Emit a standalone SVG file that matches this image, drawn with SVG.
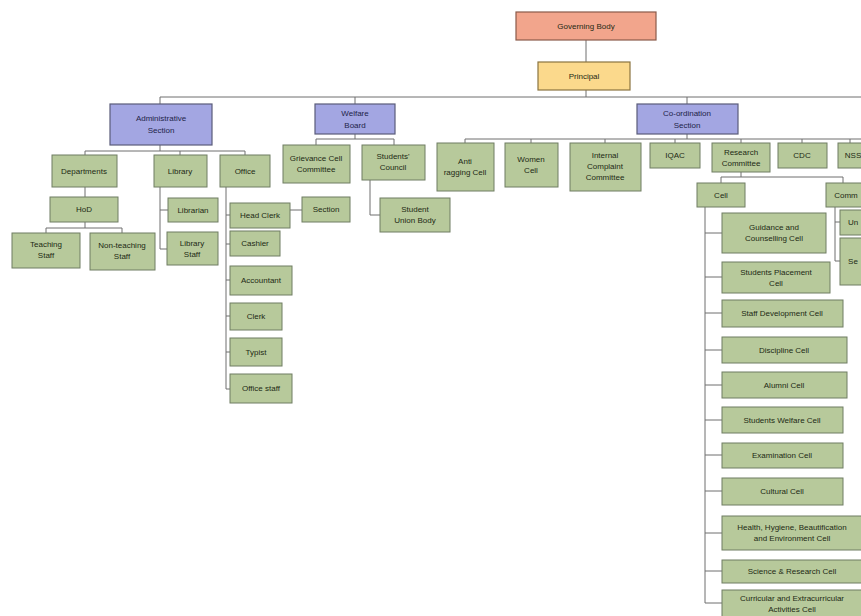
<svg xmlns="http://www.w3.org/2000/svg" width="861" height="616" viewBox="0 0 861 616">
<style>
.bg{fill:#ffffff}
.g rect{fill:#b7c99b;stroke:#6f7d62;stroke-width:1}
.b rect{fill:#a3a6e2;stroke:#5a5c7a;stroke-width:1.2}
.top rect{fill:#f2a58c;stroke:#8a5a4a;stroke-width:1.2}
.pr rect{fill:#fbd98c;stroke:#8a7440;stroke-width:1.2}
text{font-family:"Liberation Sans",Arial,sans-serif;font-size:8px;fill:#1d2a14;text-anchor:middle}
.b text{fill:#1e2448}
#connectors path{fill:none;stroke:#6e6e6e;stroke-width:1}
</style>
<rect class="bg" x="0" y="0" width="861" height="616"/>
<g id="connectors">
<path d="M586 40V62M586 90V97M160 97H861M160 97V104M355 97V104M687 97V104"/>
<path d="M160 145V151M85 151H245M85 151V155M180 151V155M245 151V155"/>
<path d="M85 187V197M85 222V228M46 228H122M46 228V233M122 228V233"/>
<path d="M160 187V249M160 210H168M160 249H167"/>
<path d="M226 187V389M226 215H230M226 244H230M226 280H230M226 316H230M226 352H230M226 389H230M290 210H302"/>
<path d="M355 134V139M316 139H394M316 139V145M394 139V145M370 180V215H380"/>
<path d="M687 134V139M465 139H861M465 139V143M531 139V143M605 139V143M675 139V143M741 139V143M802 139V143M850 139V143"/>
<path d="M741 172V177M721 177H843M721 177V183M843 177V183"/>
<path d="M705 207V603M705 233H722M705 277H722M705 313H722M705 350H722M705 385H722M705 420H722M705 455H722M705 491H722M705 533H722M705 571H722M705 603H722"/>
<path d="M835 207V261M835 222H840M835 261H840"/>
</g>
<g id="governing-body" class="top"><rect x="516" y="12" width="140" height="28"/><text x="586" y="29">Governing Body</text></g>
<g id="principal" class="pr"><rect x="538" y="62" width="92" height="28"/><text x="584" y="79">Principal</text></g>
<g id="administrative-section" class="b"><rect x="110" y="104" width="102" height="41"/><text x="161" y="121">Administrative</text><text x="161" y="133">Section</text></g>
<g id="welfare-board" class="b"><rect x="315" y="104" width="80" height="30"/><text x="355" y="116">Welfare</text><text x="355" y="128">Board</text></g>
<g id="coordination-section" class="b"><rect x="637" y="104" width="101" height="30"/><text x="687" y="116">Co-ordination</text><text x="687" y="128">Section</text></g>
<g id="departments" class="g"><rect x="52" y="155" width="65" height="32"/><text x="84" y="174">Departments</text></g>
<g id="library" class="g"><rect x="154" y="155" width="53" height="32"/><text x="180" y="174">Library</text></g>
<g id="office" class="g"><rect x="220" y="155" width="50" height="32"/><text x="245" y="174">Office</text></g>
<g id="hod" class="g"><rect x="50" y="197" width="68" height="25"/><text x="84" y="212">HoD</text></g>
<g id="teaching-staff" class="g"><rect x="12" y="233" width="68" height="35"/><text x="46" y="247">Teaching</text><text x="46" y="258">Staff</text></g>
<g id="non-teaching-staff" class="g"><rect x="90" y="233" width="65" height="37"/><text x="122" y="248">Non-teaching</text><text x="122" y="259">Staff</text></g>
<g id="librarian" class="g"><rect x="168" y="198" width="50" height="24"/><text x="193" y="213">Librarian</text></g>
<g id="library-staff" class="g"><rect x="167" y="232" width="51" height="33"/><text x="192" y="246">Library</text><text x="192" y="257">Staff</text></g>
<g id="head-clerk" class="g"><rect x="230" y="203" width="60" height="25"/><text x="260" y="218">Head Clerk</text></g>
<g id="section" class="g"><rect x="302" y="197" width="48" height="25"/><text x="326" y="212">Section</text></g>
<g id="cashier" class="g"><rect x="230" y="231" width="50" height="25"/><text x="255" y="246">Cashier</text></g>
<g id="accountant" class="g"><rect x="230" y="266" width="62" height="29"/><text x="261" y="283">Accountant</text></g>
<g id="clerk" class="g"><rect x="230" y="303" width="52" height="27"/><text x="256" y="319">Clerk</text></g>
<g id="typist" class="g"><rect x="230" y="338" width="52" height="28"/><text x="256" y="355">Typist</text></g>
<g id="office-staff" class="g"><rect x="230" y="374" width="62" height="29"/><text x="261" y="391">Office staff</text></g>
<g id="grievance-committee" class="g"><rect x="283" y="145" width="67" height="38"/><text x="316" y="161">Grievance Cell</text><text x="316" y="172">Committee</text></g>
<g id="students-council" class="g"><rect x="362" y="145" width="63" height="35"/><text x="393" y="159">Students'</text><text x="393" y="170">Council</text></g>
<g id="student-union" class="g"><rect x="380" y="198" width="70" height="34"/><text x="415" y="212">Student</text><text x="415" y="223">Union Body</text></g>
<g id="anti-ragging-cell" class="g"><rect x="437" y="143" width="57" height="48"/><text x="465" y="164">Anti</text><text x="465" y="175">ragging Cell</text></g>
<g id="women-cell" class="g"><rect x="505" y="143" width="53" height="44"/><text x="531" y="162">Women</text><text x="531" y="173">Cell</text></g>
<g id="internal-complaint-committee" class="g"><rect x="570" y="143" width="71" height="48"/><text x="605" y="158">Internal</text><text x="605" y="169">Complaint</text><text x="605" y="180">Committee</text></g>
<g id="iqac" class="g"><rect x="650" y="143" width="50" height="25"/><text x="675" y="158">IQAC</text></g>
<g id="research-committee" class="g"><rect x="712" y="143" width="58" height="29"/><text x="741" y="155">Research</text><text x="741" y="166">Committee</text></g>
<g id="cdc" class="g"><rect x="778" y="143" width="49" height="25"/><text x="802" y="158">CDC</text></g>
<g id="nss" class="g"><rect x="838" y="143" width="30" height="25"/><text x="853" y="158">NSS</text></g>
<g id="cell" class="g"><rect x="697" y="183" width="48" height="24"/><text x="721" y="198">Cell</text></g>
<g id="committee" class="g"><rect x="826" y="183" width="40" height="24"/><text x="846" y="198">Comm</text></g>
<g id="right-1" class="g"><rect x="840" y="210" width="26" height="25"/><text x="853" y="225">Un</text></g>
<g id="right-2" class="g"><rect x="840" y="238" width="26" height="47"/><text x="853" y="264">Se</text></g>
<g id="guidance-cell" class="g"><rect x="722" y="213" width="104" height="40"/><text x="774" y="230">Guidance and</text><text x="774" y="241">Counselling Cell</text></g>
<g id="placement-cell" class="g"><rect x="722" y="262" width="108" height="31"/><text x="776" y="275">Students Placement</text><text x="776" y="286">Cell</text></g>
<g id="staff-development-cell" class="g"><rect x="722" y="300" width="121" height="27"/><text x="782" y="316">Staff Development Cell</text></g>
<g id="discipline-cell" class="g"><rect x="722" y="337" width="125" height="26"/><text x="784" y="353">Discipline Cell</text></g>
<g id="alumni-cell" class="g"><rect x="722" y="372" width="125" height="26"/><text x="784" y="388">Alumni Cell</text></g>
<g id="students-welfare-cell" class="g"><rect x="722" y="407" width="121" height="26"/><text x="782" y="423">Students Welfare Cell</text></g>
<g id="examination-cell" class="g"><rect x="722" y="443" width="121" height="25"/><text x="782" y="458">Examination Cell</text></g>
<g id="cultural-cell" class="g"><rect x="722" y="478" width="121" height="27"/><text x="782" y="494">Cultural Cell</text></g>
<g id="health-cell" class="g"><rect x="722" y="516" width="145" height="34"/><text x="792" y="530">Health, Hygiene, Beautification</text><text x="792" y="541">and Environment Cell</text></g>
<g id="science-research-cell" class="g"><rect x="722" y="560" width="145" height="23"/><text x="792" y="574">Science &amp; Research Cell</text></g>
<g id="curricular-cell" class="g"><rect x="722" y="590" width="145" height="30"/><text x="792" y="601">Curricular and Extracurricular</text><text x="792" y="612">Activities Cell</text></g>
</svg>
